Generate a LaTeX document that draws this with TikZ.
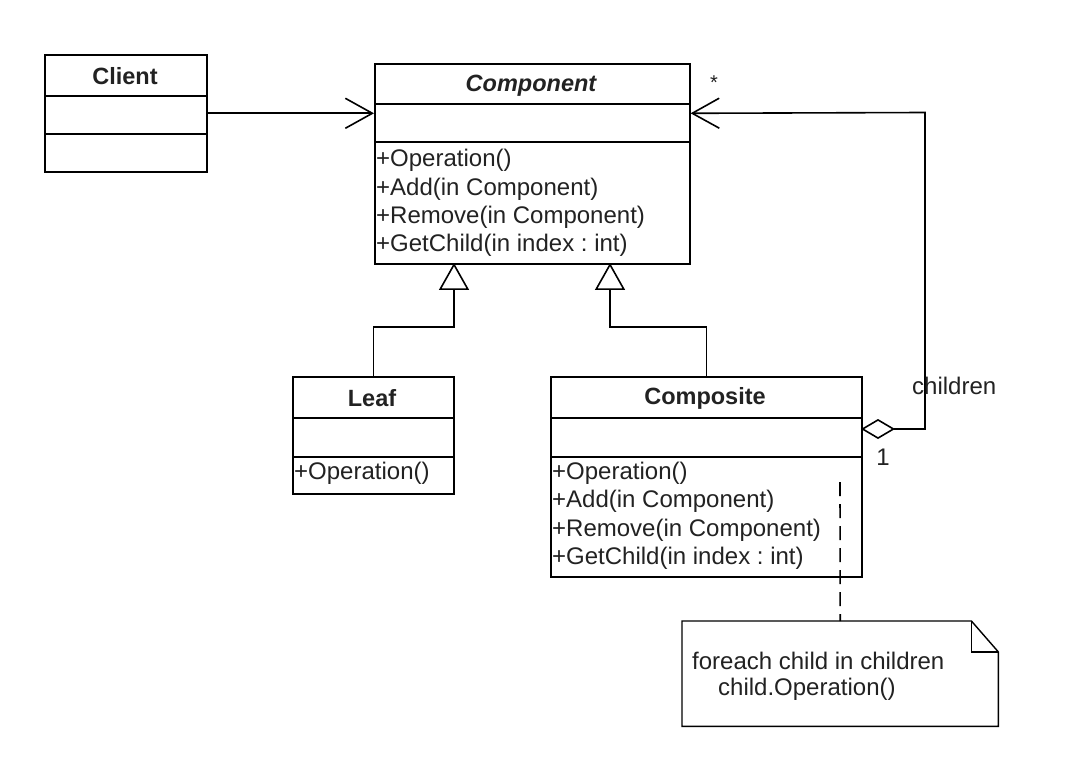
\documentclass[tikz,border=0pt]{standalone}
\usepackage{fontspec}
\setmainfont{Liberation Sans}
\usetikzlibrary{arrows.meta}
\definecolor{txt}{HTML}{222222}
\frenchspacing
\tikzset{
  ln/.style={line width=1.6pt, draw=black},
  cls/.style={ln, inner sep=0pt, anchor=north west},
  ttl/.style={inner sep=0pt, text=txt, font=\bfseries\fontsize{23.5}{28}\selectfont},
  meth/.style={inner sep=0pt, anchor=west, text=txt, font=\fontsize{24}{28}\selectfont},
  lbl/.style={inner sep=0pt, text=txt, font=\fontsize{24}{28}\selectfont},
  assoc/.style={ln, -{Straight Barb[length=27pt,width=30pt,line width=1.6pt]}},
  gen/.style={ln, -{Triangle[open,length=27pt,width=30pt,line width=1.6pt,fill=white]}},
  agg/.style={ln, {Diamond[open,length=34pt,width=20pt,line width=1.6pt,fill=white]}-{Straight Barb[length=27pt,width=30pt,line width=1.6pt]}},
  anchorline/.style={ln, dash pattern=on 14pt off 8pt}
}
\begin{document}
\begin{tikzpicture}[x=1pt,y=-1pt]
\useasboundingbox[fill=white] (0,0) rectangle (1086,775);

% Client
\node[cls, minimum width=162pt, minimum height=117pt] (client) at (44,54) {};
\draw[ln] (client.west |- 0,96) -- (client.east |- 0,96);
\draw[ln] (client.west |- 0,134) -- (client.east |- 0,134);
\node[ttl] (clientt) at (125,76) {Client};

% Component
\node[cls, minimum width=315pt, minimum height=200pt] (component) at (374,63) {};
\draw[ln] (component.west |- 0,104) -- (component.east |- 0,104);
\draw[ln] (component.west |- 0,142) -- (component.east |- 0,142);
\node[ttl, font=\bfseries\itshape\fontsize{23.5}{28}\selectfont] (componentt) at (531,86) {Component};
\node[meth] (co1) at (376,160) {+Operation()};
\node[meth] (co2) at (376,189) {+Add(in Component)};
\node[meth] (co3) at (376,217) {+Remove(in Component)};
\node[meth] (co4) at (376,245) {+GetChild(in index : int)};

% Leaf
\node[cls, minimum width=161pt, minimum height=117pt] (leaf) at (292,376) {};
\draw[ln] (leaf.west |- 0,418) -- (leaf.east |- 0,418);
\draw[ln] (leaf.west |- 0,457) -- (leaf.east |- 0,457);
\node[ttl] (leaft) at (372,398) {Leaf};
\node[meth] (le1) at (294,473) {+Operation()};

% Composite
\node[cls, minimum width=311pt, minimum height=200pt] (composite) at (550,376) {};
\draw[ln] (composite.west |- 0,418) -- (composite.east |- 0,418);
\draw[ln] (composite.west |- 0,457) -- (composite.east |- 0,457);
\node[ttl] (compositet) at (705,398) {Composite};
\node[meth] (cm1) at (552,473) {+Operation()};
\node[meth] (cm2) at (552,501) {+Add(in Component)};
\node[meth] (cm3) at (552,530) {+Remove(in Component)};
\node[meth] (cm4) at (552,558) {+GetChild(in index : int)};

% Note
\node[inner sep=0pt, minimum width=316pt, minimum height=105pt, anchor=north west] (note) at (682,621) {};
\draw[ln, line width=1.4pt] (note.north west) -- ([xshift=-27pt]note.north east)
  -- ([yshift=-31pt]note.north east) -- (note.south east) -- (note.south west) -- cycle;
\draw[ln, line width=1.4pt] ([xshift=-27pt]note.north east) -- ([xshift=-27pt,yshift=-31pt]note.north east)
  -- ([yshift=-31pt]note.north east);
\node[meth] (nt1) at (692,661) {foreach child in children};
\node[meth] (nt2) at (718,689) {child.Operation()};

% Connectors
\draw[assoc] (client.east) -- (client.east -| component.west);
\draw[gen] (leaf.north) -- (leaf.north |- 0,327) -- (454,327) -- (454,263);
\draw[gen] (composite.north) -- (composite.north |- 0,327) -- (610,327) -- (610,263);
\coordinate (aggstart) at (861,429);
\coordinate (bendA) at (925,429);
\coordinate (bendB) at (925,112.5);
\draw[agg] (aggstart) -- (bendA) -- (bendB) -- (component.east |- client.east);
\coordinate (dashtop) at (840,482);
\draw[anchorline] (dashtop) -- (note.north);

% Labels
\node[lbl, font=\fontsize{20}{24}\selectfont] (star) at (714,83) {*};
\node[lbl, anchor=west] (children) at (912,386) {children};
\node[lbl] (one) at (883,457) {1};
\end{tikzpicture}
\end{document}
